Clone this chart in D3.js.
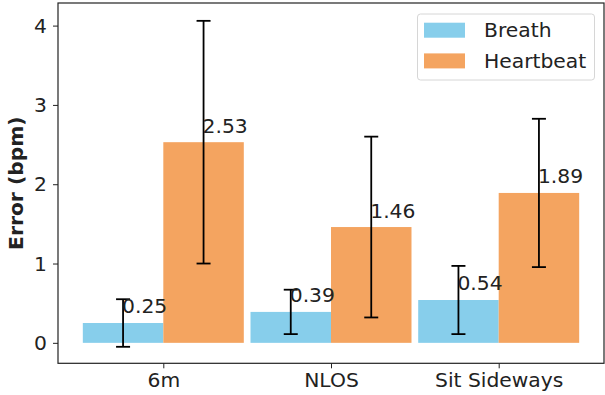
<!DOCTYPE html>
<html>
<head>
<meta charset="utf-8">
<script src="https://cdn.jsdelivr.net/npm/d3@7"></script>
<style>
  body { margin: 0; background: #fff; }
  text { font-family: "DejaVu Sans", sans-serif; fill: #222; }
</style>
</head>
<body>
<script>
// chart data
var categories = ["6m", "NLOS", "Sit Sideways"];
var breath = [0.25, 0.39, 0.54];
var breathErr = [0.30, 0.28, 0.43];
var heartbeat = [2.53, 1.46, 1.89];
var heartbeatErr = [1.53, 1.14, 0.935];
var yTicks = [0, 1, 2, 3, 4];
var seriesNames = ["Breath", "Heartbeat"];
var seriesColors = ["#87CEEB", "#F4A460"];

var width = 605, height = 395;
var plotL = 58, plotR = 604, plotT = 3, plotB = 363.3;
var barW = 0.48;
var fs = "20.3px";

var svg = d3.select("body").append("svg")
  .attr("width", width)
  .attr("height", height);

var x = d3.scaleLinear().domain([-0.628, 2.628]).range([plotL, plotR]);
var y = d3.scaleLinear().domain([-0.258, 4.285]).range([plotB, plotT]);

var series = [
  { name: seriesNames[0], vals: breath, errs: breathErr, off: -barW / 2, color: seriesColors[0] },
  { name: seriesNames[1], vals: heartbeat, errs: heartbeatErr, off: barW / 2, color: seriesColors[1] }
];

// bars
series.forEach(function(s) {
  svg.append("g").selectAll("rect")
    .data(s.vals)
    .enter().append("rect")
    .attr("x", function(d, i) { return x(i + s.off - barW / 2); })
    .attr("width", x(barW) - x(0))
    .attr("y", function(d) { return y(d); })
    .attr("height", function(d) { return y(0) - y(d); })
    .style("fill", s.color);
});

// error bars
series.forEach(function(s) {
  var g = svg.append("g").selectAll("g")
    .data(s.vals)
    .enter().append("g")
    .attr("transform", function(d, i) { return "translate(" + x(i + s.off) + ",0)"; });
  g.append("line")
    .attr("y1", function(d, i) { return y(d - s.errs[i]); })
    .attr("y2", function(d, i) { return y(d + s.errs[i]); })
    .attr("stroke", "#000").attr("stroke-width", 1.8);
  g.append("line")
    .attr("x1", -7).attr("x2", 7)
    .attr("y1", function(d, i) { return y(d + s.errs[i]); })
    .attr("y2", function(d, i) { return y(d + s.errs[i]); })
    .attr("stroke", "#000").attr("stroke-width", 1.8);
  g.append("line")
    .attr("x1", -7).attr("x2", 7)
    .attr("y1", function(d, i) { return y(d - s.errs[i]); })
    .attr("y2", function(d, i) { return y(d - s.errs[i]); })
    .attr("stroke", "#000").attr("stroke-width", 1.8);
});

// value labels
series.forEach(function(s) {
  svg.append("g").selectAll("text")
    .data(s.vals)
    .enter().append("text")
    .attr("x", function(d, i) { return x(i + s.off) - 1; })
    .attr("y", function(d) { return y(d + 0.12); })
    .style("font-size", fs)
    .text(function(d) { return d.toFixed(2); });
});

// axes
var xAxis = d3.axisBottom(x)
  .tickValues([0, 1, 2])
  .tickFormat(function(d) { return categories[d]; })
  .tickSize(5).tickPadding(4);
var yAxis = d3.axisLeft(y)
  .tickValues(yTicks)
  .tickFormat(d3.format("d"))
  .tickSize(5).tickPadding(6);

var gx = svg.append("g")
  .attr("transform", "translate(0," + plotB + ")")
  .call(xAxis);
var gy = svg.append("g")
  .attr("transform", "translate(" + plotL + ",0)")
  .call(yAxis);
[gx, gy].forEach(function(g) {
  g.select(".domain").remove();
  g.selectAll("line").attr("stroke", "#222");
  g.selectAll("text").style("font-size", fs).style("font-family", "DejaVu Sans").attr("fill", "#222");
});

// frame
svg.append("rect")
  .attr("x", plotL).attr("y", plotT)
  .attr("width", plotR - plotL).attr("height", plotB - plotT)
  .attr("fill", "none").attr("stroke", "#222").attr("stroke-width", 1.2);

// y label
svg.append("text")
  .attr("transform", "translate(16," + ((plotT + plotB) / 2) + ") rotate(-90)")
  .attr("text-anchor", "middle")
  .attr("dy", "0.35em")
  .style("font-size", fs)
  .style("font-weight", "bold")
  .text("Error (bpm)");

// legend
var leg = svg.append("g");
leg.append("rect")
  .attr("x", 417.5).attr("y", 14)
  .attr("width", 177).attr("height", 66)
  .attr("rx", 3)
  .attr("fill", "#fff").attr("fill-opacity", 0.8)
  .attr("stroke", "#d6d6d6");
series.forEach(function(s, i) {
  leg.append("rect")
    .attr("x", 424).attr("y", 22.7 + i * 30.7)
    .attr("width", 41).attr("height", 15)
    .attr("fill", s.color);
  leg.append("text")
    .attr("x", 484).attr("y", 30.2 + i * 30.7)
    .attr("dy", "0.35em")
    .style("font-size", fs)
    .text(s.name);
});
</script>
</body>
</html>
